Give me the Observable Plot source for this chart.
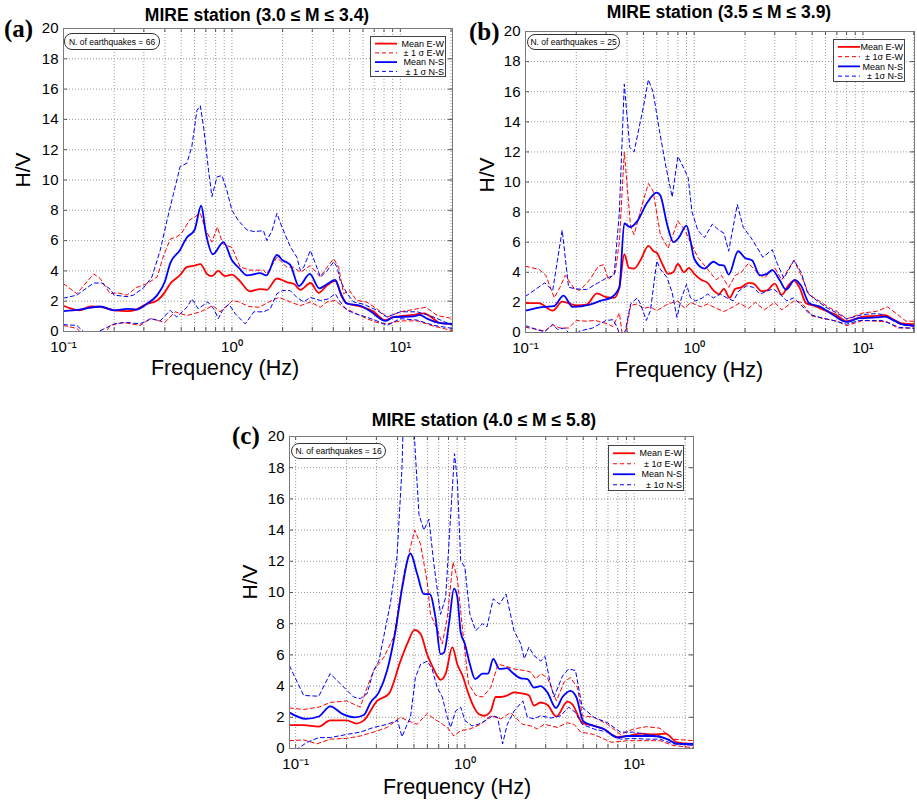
<!DOCTYPE html>
<html><head><meta charset="utf-8">
<script src="https://cdn.jsdelivr.net/npm/d3@7"></script>
<script src="https://cdn.jsdelivr.net/npm/@observablehq/plot@0.6"></script>
<style>
body{margin:0;background:#fff;}
#root{position:relative;width:917px;height:802px;font-family:"Liberation Sans",Arial,Helvetica,sans-serif;color:#000;overflow:hidden}
.abs{position:absolute;white-space:nowrap}
.title{font-weight:bold;font-size:17.5px;transform:translate(-50%,-50%)}
.plabel{font-family:"Liberation Serif","Times New Roman",serif;font-weight:bold;font-size:25px;transform:translate(0,-50%)}
.ylab{font-size:21px;transform:translate(-50%,-50%) rotate(-90deg)}
.xlab{font-size:21.5px;transform:translate(-50%,-50%)}
.note{border:1px solid #333;border-radius:8px;font-size:8.5px;box-sizing:border-box;display:flex;align-items:center;justify-content:center;background:#fff}
.legend{border:1px solid #444;background:#fff;box-sizing:border-box;font-size:8.5px}
.legend svg{position:absolute;left:0;top:0}
</style></head>
<body><div id="root"></div>
<script>
// ---------- DATA ----------
const panelTags = ["(a)", "(b)", "(c)"];
const panelTitles = ["MIRE station (3.0 ≤ M ≤ 3.4)", "MIRE station (3.5 ≤ M ≤ 3.9)", "MIRE station (4.0 ≤ M ≤ 5.8)"];
const quakeCounts = [66, 25, 16];
const legendLabelsA = ["Mean E-W", "± 1 σ E-W", "Mean N-S", "± 1 σ N-S"];
const legendLabelsBC = ["Mean E-W", "± 1σ E-W", "Mean N-S", "± 1σ N-S"];
const yTicks = [0, 2, 4, 6, 8, 10, 12, 14, 16, 18, 20];
const xGridTicks = [0.1,0.2,0.3,0.4,0.5,0.6,0.7,0.8,0.9,1,2,3,4,5,6,7,8,9,10,20];
const xLabelTicks = [0.1, 1, 10];
const xLabelText = ["10⁻¹", "10⁰", "10¹"];

// Panel (a)  [frequency Hz, H/V]
const a_ewMean = [[0.1,1.7],[0.125,1.4],[0.145,1.65],[0.165,1.62],[0.2,1.4],[0.24,1.35],[0.27,1.45],[0.31,1.8],[0.36,2.05],[0.4,2.6],[0.43,3.15],[0.49,3.7],[0.54,4.25],[0.6,4.35],[0.65,4.45],[0.71,3.8],[0.76,3.65],[0.83,4.0],[0.91,3.65],[1.0,3.75],[1.1,3.4],[1.28,2.65],[1.47,2.8],[1.61,2.75],[1.85,3.5],[2.13,3.25],[2.33,3.15],[2.55,2.75],[2.93,3.2],[3.27,2.55],[3.67,3.05],[4.11,3.35],[4.51,2.25],[4.83,1.85],[5.79,1.65],[6.96,1.3],[8.1,0.75],[9.1,0.95],[12,1.1],[13.8,1.2],[15.5,0.9],[17.3,0.55],[20.5,0.5]];
const a_ewUpper = [[0.1,3.15],[0.12,2.5],[0.151,3.8],[0.165,3.5],[0.189,2.5],[0.21,2.55],[0.238,2.4],[0.27,2.9],[0.313,3.15],[0.36,3.6],[0.39,4.9],[0.43,6.1],[0.47,6.25],[0.5,6.45],[0.56,7.35],[0.649,7.8],[0.7,6.7],[0.76,5.9],[0.82,6.9],[0.88,5.8],[1.0,5.55],[1.12,4.25],[1.28,4.05],[1.54,4.05],[1.61,3.8],[1.85,4.9],[2.11,4.25],[2.32,4.25],[2.55,3.9],[2.92,4.35],[3.35,3.6],[3.67,4.25],[4.02,4.8],[4.3,4.25],[4.6,2.5],[5.0,2.7],[5.5,2.05],[6.3,1.95],[7.26,1.5],[8.34,0.95],[10,1.3],[12.6,1.5],[14.2,1.6],[16.6,1.05],[20.5,0.85]];
const a_ewLower = [[0.1,0.4],[0.12,0.2],[0.131,-0.2],[0.16,-0.3],[0.18,0.0],[0.189,0.4],[0.225,0.6],[0.285,0.4],[0.33,0.85],[0.4,0.6],[0.46,1.3],[0.54,1.05],[0.65,1.3],[0.77,1.7],[0.85,1.3],[1.01,2.05],[1.1,1.95],[1.26,1.65],[1.45,1.6],[1.66,1.95],[1.9,2.25],[2.22,1.95],[2.55,1.7],[2.92,1.95],[3.35,1.6],[3.67,1.95],[4.1,2.05],[4.6,1.6],[5.2,1.3],[6.3,0.85],[7.26,0.6],[8.34,0.5],[10,0.7],[12.6,0.7],[15.8,0.35],[20.5,0.05]];
const a_nsMean = [[0.1,1.35],[0.125,1.45],[0.165,1.65],[0.2,1.4],[0.24,1.5],[0.27,1.45],[0.31,1.8],[0.36,2.4],[0.4,3.3],[0.43,4.5],[0.49,5.35],[0.54,6.2],[0.6,6.7],[0.657,8.3],[0.7,6.5],[0.77,5.1],[0.89,5.9],[1.0,4.7],[1.1,4.2],[1.23,3.7],[1.47,3.85],[1.6,3.7],[1.85,5.05],[2.0,4.7],[2.22,4.4],[2.5,3.0],[2.9,3.8],[3.3,2.85],[3.7,3.15],[4.1,3.4],[4.4,2.6],[4.8,1.85],[5.8,1.7],[6.6,1.35],[8.2,0.7],[9.1,0.95],[12,1.0],[13,1.1],[14.4,0.85],[17.4,0.55],[20.5,0.5]];
const a_nsUpper = [[0.1,2.2],[0.12,2.4],[0.151,3.2],[0.169,3.2],[0.189,2.8],[0.2,2.4],[0.238,2.3],[0.26,2.4],[0.3,2.9],[0.335,3.6],[0.375,5.35],[0.411,7.3],[0.45,9.1],[0.493,10.9],[0.54,11.1],[0.578,12.2],[0.62,14.6],[0.649,14.9],[0.679,13.5],[0.727,10.6],[0.761,8.9],[0.815,10.2],[0.873,10.3],[0.934,9.3],[1.0,8.0],[1.096,7.3],[1.23,6.7],[1.35,6.6],[1.54,6.65],[1.61,6.0],[1.73,6.65],[1.85,7.8],[1.98,6.9],[2.22,5.6],[2.43,4.9],[2.55,4.0],[2.67,4.25],[2.92,5.35],[3.13,4.5],[3.35,3.6],[3.67,4.0],[4.02,4.6],[4.21,4.25],[4.4,3.35],[4.82,2.5],[5.28,1.95],[6.05,1.8],[7.26,1.4],[8.34,0.95],[10,1.3],[12.6,1.3],[15.8,0.95],[20.5,0.4]];
const a_nsLower = [[0.1,0.45],[0.12,0.4],[0.131,0.0],[0.145,-0.3],[0.165,0.05],[0.2,0.5],[0.238,0.6],[0.285,0.5],[0.33,0.85],[0.375,0.7],[0.43,1.4],[0.47,0.95],[0.54,1.6],[0.58,2.15],[0.63,1.5],[0.72,1.95],[0.78,1.5],[0.83,0.85],[0.88,1.4],[0.96,1.8],[1.05,1.15],[1.2,0.5],[1.35,1.3],[1.54,1.3],[1.69,1.5],[1.85,2.5],[2.0,2.7],[2.22,2.7],[2.43,2.25],[2.67,1.95],[2.92,2.25],[3.35,2.05],[3.75,2.15],[4.1,2.5],[4.4,1.95],[4.82,1.4],[5.5,1.15],[6.3,0.95],[7.26,0.7],[8.34,0.4],[10,0.85],[12.6,0.75],[15.8,0.4],[20.5,0.2]];

// Panel (b)
const b_ewMean = [[0.1,1.95],[0.12,1.95],[0.145,1.45],[0.165,2.05],[0.2,1.8],[0.23,1.85],[0.265,2.6],[0.3,2.35],[0.335,2.3],[0.36,3.0],[0.385,5.2],[0.41,4.3],[0.44,4.25],[0.48,4.8],[0.535,5.75],[0.575,5.4],[0.6,5.3],[0.65,4.5],[0.7,3.9],[0.75,4.0],[0.8,4.55],[0.87,4.0],[0.93,4.3],[1.0,3.9],[1.1,3.5],[1.2,3.3],[1.3,2.8],[1.4,2.55],[1.5,2.9],[1.62,2.3],[1.75,2.9],[1.9,3.0],[2.1,3.3],[2.25,3.25],[2.5,2.75],[2.7,2.8],[3.0,3.25],[3.3,2.5],[3.6,3.1],[3.9,3.45],[4.2,3.0],[4.6,1.95],[5.2,1.75],[6.0,1.45],[7.0,1.15],[8.0,0.75],[9,0.9],[10,1.05],[12,1.1],[13.5,1.15],[15,0.9],[17,0.6],[20.5,0.55]];
const b_ewUpper = [[0.1,4.4],[0.12,4.2],[0.132,3.8],[0.148,2.3],[0.16,3.0],[0.172,3.8],[0.195,2.9],[0.21,2.8],[0.24,3.5],[0.27,4.4],[0.29,4.5],[0.31,3.5],[0.34,4.0],[0.36,6.0],[0.385,12.0],[0.42,7.0],[0.44,6.5],[0.5,8.8],[0.535,9.9],[0.57,9.4],[0.63,6.5],[0.7,5.6],[0.8,7.4],[0.88,6.8],[0.95,6.0],[1.05,5.0],[1.2,4.2],[1.35,3.5],[1.45,3.8],[1.6,3.0],[1.75,3.8],[1.9,4.0],[2.1,4.6],[2.35,4.0],[2.6,3.6],[2.8,4.0],[3.0,4.3],[3.3,3.5],[3.9,4.8],[4.3,3.8],[4.8,2.5],[5.5,2.1],[6.2,1.7],[7,1.4],[8,0.9],[10,1.3],[12,1.4],[14,1.7],[16,1.2],[18,0.75],[20.5,0.75]];
const b_ewLower = [[0.1,0.35],[0.13,0.1],[0.145,0.5],[0.16,0.3],[0.18,0.3],[0.2,0.8],[0.23,0.75],[0.26,0.8],[0.3,0.6],[0.33,0.4],[0.36,1.3],[0.375,-0.2],[0.39,-0.2],[0.42,1.8],[0.46,1.9],[0.5,1.6],[0.55,1.7],[0.6,1.45],[0.7,1.9],[0.8,2.1],[0.88,1.6],[0.95,2.0],[1.0,1.9],[1.1,1.7],[1.2,1.9],[1.35,1.6],[1.5,1.4],[1.7,1.7],[1.85,1.95],[2.1,1.6],[2.3,2.0],[2.6,1.5],[3.0,2.0],[3.3,1.5],[3.9,2.1],[4.3,2.0],[5.0,1.1],[6.0,0.9],[7.0,0.75],[8.0,0.45],[10,0.8],[12,0.75],[14,0.7],[16,0.3],[20.5,0.3]];
const b_nsMean = [[0.1,1.45],[0.128,1.7],[0.147,1.75],[0.168,2.45],[0.19,1.7],[0.24,1.85],[0.277,2.1],[0.32,2.3],[0.36,3.0],[0.385,7.25],[0.417,7.0],[0.46,7.4],[0.524,8.6],[0.6,9.3],[0.63,9.1],[0.69,7.2],[0.754,6.0],[0.81,6.3],[0.9,7.1],[0.95,6.1],[1.0,4.9],[1.15,4.25],[1.3,4.7],[1.4,4.5],[1.5,4.45],[1.6,3.85],[1.82,5.4],[2.0,4.95],[2.2,4.8],[2.45,3.8],[2.7,3.9],[2.9,4.15],[3.2,3.5],[3.5,2.85],[3.95,3.5],[4.3,3.1],[4.8,1.95],[5.6,1.7],[6.6,1.2],[8.0,0.7],[9.5,0.95],[12,1.0],[13.5,1.05],[15,0.85],[17,0.55],[20.5,0.45]];
const b_nsUpper = [[0.1,2.4],[0.13,3.3],[0.145,2.8],[0.165,6.8],[0.18,3.0],[0.2,2.9],[0.23,2.85],[0.26,3.2],[0.3,3.6],[0.335,3.8],[0.36,8.0],[0.385,16.5],[0.415,12.3],[0.44,12.0],[0.5,15.0],[0.535,16.8],[0.57,16.0],[0.62,13.5],[0.68,11.0],[0.74,9.0],[0.8,11.7],[0.86,11.0],[0.92,10.3],[0.97,8.0],[1.05,6.8],[1.15,6.3],[1.28,7.2],[1.4,6.8],[1.5,6.6],[1.6,5.4],[1.8,8.5],[1.95,7.0],[2.2,6.2],[2.55,5.0],[2.9,5.5],[3.1,4.6],[3.4,3.6],[3.9,4.8],[4.3,4.0],[4.7,2.6],[5.5,2.0],[6.2,1.6],[7.0,1.3],[8,0.9],[10,1.2],[12,1.25],[13,1.2],[15,0.8],[17,0.5],[20.5,0.4]];
const b_nsLower = [[0.1,0.45],[0.12,0.15],[0.13,0.05],[0.145,0.55],[0.155,0.2],[0.17,0.3],[0.19,-0.3],[0.21,0.1],[0.25,0.3],[0.3,0.8],[0.33,0.85],[0.35,0.33],[0.365,-0.3],[0.39,0.1],[0.42,1.9],[0.46,2.3],[0.48,1.9],[0.52,0.8],[0.55,1.45],[0.6,4.75],[0.63,4.2],[0.69,3.65],[0.74,2.65],[0.79,1.0],[0.84,2.3],[0.9,3.2],[0.95,2.3],[1.02,2.1],[1.12,2.3],[1.2,2.55],[1.3,2.3],[1.43,2.55],[1.56,2.3],[1.71,2.1],[1.83,2.75],[2.05,3.1],[2.24,3.0],[2.45,2.55],[2.69,2.75],[2.94,2.9],[3.22,2.55],[3.53,2.1],[3.87,2.3],[4.24,1.9],[4.85,1.2],[5.57,1.0],[6.67,0.8],[8,0.55],[9.5,0.8],[13,0.8],[16.5,0.33],[20.5,0.27]];

// Panel (c)
const c_ewMean = [[0.092,1.5],[0.1115,1.5],[0.137,1.4],[0.16,1.8],[0.2,1.8],[0.23,1.6],[0.253,1.8],[0.303,3.05],[0.355,3.5],[0.416,5.6],[0.456,6.7],[0.505,7.6],[0.547,7.35],[0.6,6.0],[0.64,5.3],[0.686,4.65],[0.718,4.4],[0.77,4.8],[0.843,6.5],[0.902,5.4],[0.97,4.65],[1.05,3.5],[1.13,2.65],[1.21,2.2],[1.3,2.1],[1.42,2.4],[1.52,3.3],[1.63,3.3],[1.78,3.4],[1.95,3.6],[2.24,3.5],[2.39,3.4],[2.56,2.75],[2.8,2.95],[3.07,2.8],[3.47,2.05],[4.03,3.0],[4.3,2.85],[4.93,1.65],[5.78,1.45],[6.61,1.25],[7.95,0.75],[9.1,0.8],[11,0.95],[12.9,0.9],[15.3,0.95],[17.9,0.4],[22.4,0.3]];
const c_ewUpper = [[0.092,2.6],[0.1115,2.5],[0.137,2.65],[0.16,2.95],[0.2,3.05],[0.241,2.65],[0.264,3.9],[0.289,5.0],[0.332,5.85],[0.38,7.15],[0.436,11.2],[0.505,14.0],[0.547,13.1],[0.6,10.6],[0.626,8.6],[0.686,7.65],[0.735,6.7],[0.787,8.4],[0.85,11.95],[0.902,10.9],[0.97,7.55],[1.05,4.15],[1.16,3.4],[1.27,3.3],[1.42,3.9],[1.57,5.4],[1.71,5.3],[1.95,5.1],[2.24,5.0],[2.45,4.9],[2.62,4.45],[2.8,4.8],[3.07,4.55],[3.47,3.05],[3.85,4.25],[4.2,4.55],[4.62,3.9],[4.95,2.1],[5.78,2.0],[6.95,1.55],[8.3,0.9],[9.9,1.25],[11.8,1.4],[14.2,1.3],[16.9,0.6],[22.4,0.5]];
const c_ewLower = [[0.092,0.5],[0.1115,0.55],[0.134,0.3],[0.16,0.6],[0.2,0.65],[0.241,0.8],[0.289,1.05],[0.347,1.35],[0.416,2.0],[0.456,1.8],[0.522,1.55],[0.599,2.25],[0.656,1.9],[0.718,1.65],[0.787,1.35],[0.862,0.8],[0.944,1.15],[1.07,1.25],[1.24,1.55],[1.42,2.1],[1.63,1.9],[1.86,2.3],[2.19,1.55],[2.45,1.45],[2.68,1.25],[2.94,1.55],[3.52,1.35],[4.03,1.65],[4.41,1.55],[4.83,1.05],[5.78,0.9],[7.3,0.4],[9.1,0.5],[11.3,0.5],[14.2,0.5],[16.9,0.2],[22.4,0.05]];
const c_nsMean = [[0.092,2.3],[0.115,1.9],[0.137,2.05],[0.16,2.7],[0.19,2.2],[0.223,2.0],[0.253,2.15],[0.277,2.95],[0.31,3.6],[0.347,5.0],[0.389,7.55],[0.426,10.3],[0.477,12.5],[0.522,11.2],[0.572,9.9],[0.62,9.9],[0.67,8.4],[0.718,6.05],[0.752,6.15],[0.805,8.0],[0.862,10.25],[0.902,9.7],[0.944,7.45],[1.0,6.7],[1.07,5.4],[1.15,4.45],[1.27,4.8],[1.37,4.8],[1.47,5.75],[1.6,5.1],[1.78,5.15],[1.89,4.9],[2.14,4.5],[2.34,4.45],[2.56,3.9],[2.8,4.0],[3.07,3.6],[3.45,2.6],[3.77,3.3],[4.2,3.7],[4.55,3.3],[5.0,1.75],[5.78,1.45],[6.61,1.25],[7.95,0.7],[9.1,0.8],[11,0.8],[12.9,0.8],[15.7,0.6],[17.9,0.3],[22.4,0.3]];
const c_nsUpper = [[0.092,5.3],[0.1115,3.4],[0.137,3.35],[0.16,4.8],[0.18,4.25],[0.22,3.3],[0.241,3.2],[0.264,3.5],[0.289,5.0],[0.31,5.6],[0.363,9.3],[0.397,12.3],[0.425,18.0],[0.44,24.0],[0.47,24.0],[0.5,20.5],[0.535,15.0],[0.572,14.0],[0.613,14.7],[0.656,11.8],[0.718,8.6],[0.77,9.7],[0.824,15.0],[0.868,18.9],[0.902,17.2],[0.944,12.05],[1.0,11.6],[1.07,8.6],[1.16,7.55],[1.27,8.0],[1.35,7.8],[1.47,9.6],[1.6,9.25],[1.75,9.9],[1.95,7.55],[2.14,6.7],[2.24,5.75],[2.39,6.5],[2.56,5.95],[2.8,5.6],[2.97,5.9],[3.2,4.15],[3.36,3.3],[3.77,4.65],[4.1,5.1],[4.5,5.0],[4.93,2.65],[5.78,2.0],[6.95,1.65],[8.3,1.05],[9.9,1.05],[11.8,0.9],[14.2,0.8],[16.9,0.4],[22.4,0.2]];
const c_nsLower = [[0.092,-0.3],[0.1,-0.1],[0.117,0.4],[0.137,0.7],[0.16,0.7],[0.2,0.9],[0.241,1.05],[0.289,1.35],[0.347,1.55],[0.4,1.8],[0.425,0.75],[0.456,1.55],[0.477,2.0],[0.51,4.55],[0.547,5.4],[0.6,5.6],[0.64,5.1],[0.686,3.9],[0.735,3.3],[0.787,2.0],[0.824,1.35],[0.88,2.4],[0.944,2.65],[1.0,1.8],[1.1,1.45],[1.2,1.55],[1.33,1.8],[1.46,2.1],[1.56,2.0],[1.67,0.3],[1.78,1.55],[1.95,2.4],[2.2,3.05],[2.34,2.0],[2.56,1.9],[2.8,2.1],[3.22,1.95],[3.68,2.1],[4.1,2.65],[4.5,2.3],[4.93,1.55],[5.78,1.25],[6.95,1.05],[8.3,0.6],[9.9,0.65],[11.8,0.6],[14.2,0.6],[16.9,0.3],[22.4,0.2]];

// ---------- STYLE / LAYOUT ----------
const RED = "#ff0000", BLUE = "#0000ff";
const panels = [
  {tag:0, xDomain:[0.1,20.4], box:[63,28,452,331], curves:[a_ewMean,a_ewUpper,a_ewLower,a_nsMean,a_nsUpper,a_nsLower],
   titleXY:[257,15], tagXY:[4,29], ylabXY:[23,170], xlabXY:[225,368], note:[64,33,96,17], legend:[370,36,76,41], legendLabels:legendLabelsA},
  {tag:1, xDomain:[0.1,20.2], box:[525,31,914,332], curves:[b_ewMean,b_ewUpper,b_ewLower,b_nsMean,b_nsUpper,b_nsLower],
   titleXY:[719,12], tagXY:[469,32], ylabXY:[487,175], xlabXY:[689,370], note:[527,34,93,16], legend:[833,39,72,43], legendLabels:legendLabelsBC},
  {tag:2, xDomain:[0.092,22.4], box:[289,436,693,748], curves:[c_ewMean,c_ewUpper,c_ewLower,c_nsMean,c_nsUpper,c_nsLower],
   titleXY:[484,420], tagXY:[232,436], ylabXY:[250,582], xlabXY:[457,787], note:[291,443,95,16], legend:[608,445,76,46], legendLabels:legendLabelsBC}
];

const root = document.getElementById("root");
function addDiv(cls, x, y, html, extra) {
  const d = document.createElement("div");
  d.className = "abs " + cls;
  d.style.left = x + "px"; d.style.top = y + "px";
  d.innerHTML = html;
  if (extra) Object.assign(d.style, extra);
  root.appendChild(d);
  return d;
}

const ML = 42, MT = 10, MR = 3, MB = 32;
const styleOf = [
  {stroke:RED, strokeWidth:1.8, curve:"monotone-x"},
  {stroke:RED, strokeWidth:1, strokeDasharray:"4,3"},
  {stroke:RED, strokeWidth:1, strokeDasharray:"4,3"},
  {stroke:BLUE, strokeWidth:1.8, curve:"monotone-x"},
  {stroke:BLUE, strokeWidth:1, strokeDasharray:"4,3"},
  {stroke:BLUE, strokeWidth:1, strokeDasharray:"4,3"}
];
const drawOrder = [1,2,0,4,5,3];
const gridStyle = {stroke:"#9a9a9a", strokeOpacity:1, strokeDasharray:"1,2", strokeWidth:1};
const tickStyle = {stroke:"#555", strokeWidth:1};

for (const p of panels) {
  const [x0,y0,x1,y1] = p.box;
  const W = (x1 - x0) + ML + MR, H = (y1 - y0) + MT + MB;
  const pxPerUnitY = (y1 - y0) / 20;
  const tickLenY = 4 / pxPerUnitY;                       // 4 px in data units
  const decadePx = (x1 - x0) / Math.log10(p.xDomain[1] / p.xDomain[0]);
  const tickFacX = Math.pow(10, 4 / decadePx);           // 4 px in log units
  const gx = xGridTicks.filter(t => t >= p.xDomain[0] && t <= p.xDomain[1]);
  const lineMarks = drawOrder.map(i => Plot.line(p.curves[i].map(([f,v]) => ({f, v})),
    {x:"f", y:"v", clip:true, strokeLinejoin:"round", ...styleOf[i]}));
  const chart = Plot.plot({
    width: W, height: H,
    marginLeft: ML, marginTop: MT, marginRight: MR, marginBottom: MB,
    x: {type:"log", domain:p.xDomain, ticks:xLabelTicks, tickFormat: d => xLabelText[xLabelTicks.indexOf(d)] ?? "", tickSize:0, tickPadding:10, label:null},
    y: {domain:[0,20], ticks:yTicks, tickSize:0, tickPadding:5, label:null},
    style: {fontFamily:"'Liberation Sans', Arial, Helvetica, sans-serif", fontSize:"15px", color:"#000", background:"transparent", overflow:"visible"},
    marks: [
      Plot.ruleY(yTicks, gridStyle),
      Plot.ruleX(gx, gridStyle),
      Plot.ruleY(yTicks, {y:d => d, x1:p.xDomain[0], x2:p.xDomain[0]*tickFacX, ...tickStyle}),
      Plot.ruleY(yTicks, {y:d => d, x1:p.xDomain[1]/tickFacX, x2:p.xDomain[1], ...tickStyle}),
      Plot.ruleX(gx, {x:d => d, y1:0, y2:tickLenY, ...tickStyle}),
      Plot.ruleX(gx, {x:d => d, y1:20 - tickLenY, y2:20, ...tickStyle}),
      ...lineMarks,
      Plot.frame({stroke:"#7a7a7a", strokeWidth:1})
    ]
  });
  chart.style.position = "absolute";
  chart.style.left = (x0 - ML) + "px";
  chart.style.top = (y0 - MT) + "px";
  root.appendChild(chart);

  addDiv("title", p.titleXY[0], p.titleXY[1], panelTitles[p.tag]);
  addDiv("plabel", p.tagXY[0], p.tagXY[1], panelTags[p.tag]);
  addDiv("ylab", p.ylabXY[0], p.ylabXY[1], "H/V");
  addDiv("xlab", p.xlabXY[0], p.xlabXY[1], "Frequency (Hz)");
  const [nx,ny,nw,nh] = p.note;
  addDiv("note", nx, ny, "N. of earthquakes = " + quakeCounts[p.tag], {width:nw+"px", height:nh+"px"});
  const [lx,ly,lw,lh] = p.legend;
  const rowH = (lh - 4) / 4;
  let svg = `<svg width="${lw}" height="${lh}">`;
  p.legendLabels.forEach((lab, i) => {
    const yy = 2 + rowH * (i + 0.5);
    const col = i < 2 ? RED : BLUE;
    const dash = i % 2 === 1 ? 'stroke-dasharray="4,3" stroke-width="1"' : 'stroke-width="1.8"';
    svg += `<line x1="4" x2="26" y1="${yy}" y2="${yy}" stroke="${col}" ${dash}/>`;
    svg += `<text x="${lw-3}" y="${yy}" dy="0.35em" text-anchor="end" font-size="9" font-family="Liberation Sans, Arial, sans-serif">${lab}</text>`;
  });
  svg += `</svg>`;
  addDiv("legend", lx, ly, svg, {width:lw+"px", height:lh+"px"});
}
</script>
</body></html>
